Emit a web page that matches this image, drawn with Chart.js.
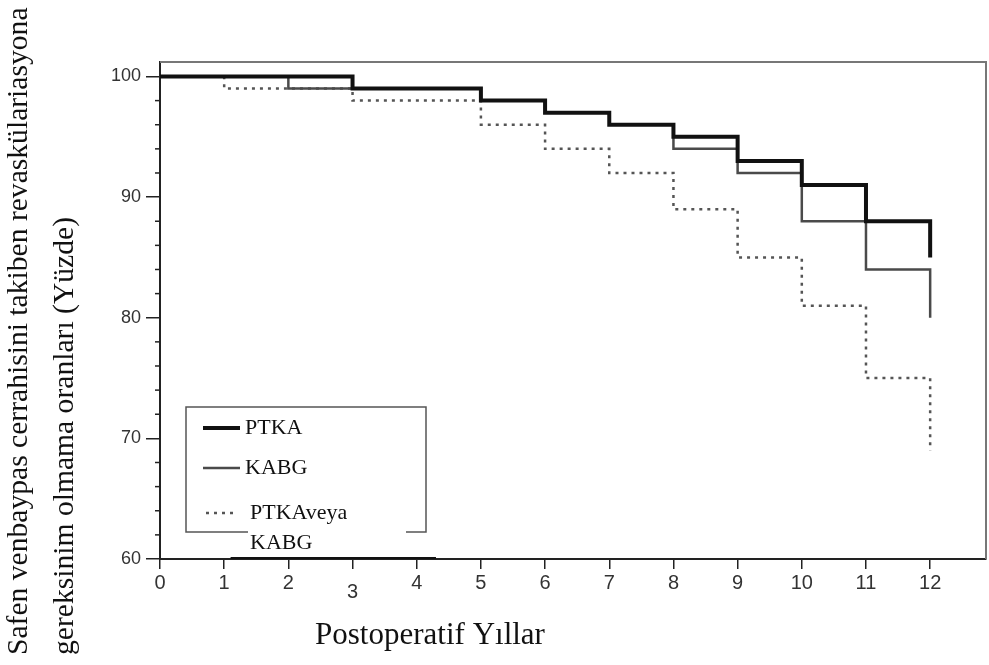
<!DOCTYPE html>
<html>
<head>
<meta charset="utf-8">
<script src="https://cdn.jsdelivr.net/npm/chart.js@4.4.1/dist/chart.umd.min.js"></script>
<style>
html,body{margin:0;padding:0;background:#fff;}
#wrap{position:relative;width:989px;height:665px;}
</style>
</head>
<body>
<div id="wrap"><canvas id="c" width="989" height="665"></canvas></div>
<script>
// ---- data ----
const years = [0,1,2,3,4,5,6,7,8,9,10,11,12];
const ptka   = [100,100,100,99,99,98,97,96,95,93,91,88,85];
const kabg   = [100,100,99,99,99,98,97,96,94,92,88,84,80];
const either = [100,99,99,98,98,96,94,92,89,85,81,75,69];
const artifactX = [1.1, 4.3];
const artifactY = [60, 60];
const xTickValues = [0,1,2,3,4,5,6,7,8,9,10,11,12];
const yTickValues = [60,70,80,90,100];
const yMinorTickValues = [62,64,66,68,72,74,76,78,82,84,86,88,92,94,96,98];
const legendLabels = ['PTKA','KABG',['PTKAveya','KABG']];
const xTitle = 'Postoperatif Yıllar';
const yTitle = ['Safen venbaypas cerrahisini takiben revaskülariasyona','gereksinim olmama oranları (Yüzde)'];

const pts = (xs, ys) => xs.map((x,i)=>({x:x, y:ys[i]}));

const serif = "'Liberation Serif','Times New Roman',serif";
const sans = "'Liberation Sans',Arial,sans-serif";
const narrow = "'Liberation Sans Narrow','Arial Narrow','Liberation Sans',sans-serif";

const decor = {
  id:'decor',
  afterDraw(chart){
    const ctx = chart.ctx, a = chart.chartArea;
    const ys = chart.scales.y;
    ctx.save();
    // frame top & right
    ctx.strokeStyle = '#777'; ctx.lineWidth = 2;
    ctx.beginPath();
    ctx.moveTo(a.left, a.top); ctx.lineTo(a.right, a.top); ctx.lineTo(a.right, a.bottom);
    ctx.stroke();
    // minor y ticks
    ctx.strokeStyle = '#222'; ctx.lineWidth = 1.5;
    yMinorTickValues.forEach(v=>{
      const p = ys.getPixelForValue(v);
      ctx.beginPath(); ctx.moveTo(a.left-5, p); ctx.lineTo(a.left, p); ctx.stroke();
    });
    // legend box
    ctx.strokeStyle = '#555'; ctx.lineWidth = 1.5;
    const bx=186, by=407, bw=240, bh=125;
    ctx.beginPath();
    ctx.moveTo(bx+62, by+bh); ctx.lineTo(bx, by+bh); ctx.lineTo(bx, by); ctx.lineTo(bx+bw, by);
    ctx.lineTo(bx+bw, by+bh); ctx.lineTo(bx+bw-20, by+bh);
    ctx.stroke();
    const ds = chart.data.datasets;
    const rows = [428, 468, 513];
    ctx.font = '22px ' + serif; ctx.fillStyle = '#111'; ctx.textBaseline = 'middle'; ctx.textAlign='left';
    for (let i=0;i<3;i++){
      const d = ds[i];
      ctx.strokeStyle = d.borderColor; ctx.lineWidth = d.borderWidth;
      ctx.setLineDash(d.borderDash || []);
      ctx.beginPath(); ctx.moveTo(i==2?206:203, rows[i]); ctx.lineTo(i==2?236:240, rows[i]); ctx.stroke();
      ctx.setLineDash([]);
      const lab = legendLabels[i];
      if (Array.isArray(lab)){
        ctx.fillText(lab[0], 250, rows[i]);
        ctx.fillText(lab[1], 250, rows[i]+30);
      } else ctx.fillText(lab, 245, rows[i]);
    }
    // x title
    ctx.font = '31px ' + serif; ctx.textAlign='center'; ctx.fillStyle='#111';
    ctx.fillText(xTitle, 430, 636);
    // y title
    ctx.font = '25px ' + serif;
    const w = ctx.measureText(yTitle[0]).width;
    const fs = 25 * 648 / w;
    ctx.font = fs.toFixed(1) + 'px ' + serif;
    ctx.textAlign = 'left';
    [[19, yTitle[0]],[65, yTitle[1]]].forEach(([cx, t])=>{
      ctx.save();
      ctx.translate(cx, 655);
      ctx.rotate(-Math.PI/2);
      ctx.fillText(t, 0, 0);
      ctx.restore();
    });
    ctx.restore();
  }
};

new Chart(document.getElementById('c'), {
  type:'line',
  data:{
    datasets:[
      {label:'PTKA', data:pts(years, ptka), borderColor:'#111', borderWidth:4, stepped:'before', pointRadius:0, fill:false},
      {label:'KABG', data:pts(years, kabg), borderColor:'#4a4a4a', borderWidth:2.5, stepped:'before', pointRadius:0, fill:false},
      {label:'PTKA veya KABG', data:pts(years, either), borderColor:'#555', borderWidth:2.5, borderDash:[3,5], stepped:'before', pointRadius:0, fill:false},
      {label:'', data:pts(artifactX, artifactY), borderColor:'#111', borderWidth:4, pointRadius:0, fill:false}
    ]
  },
  options:{
    responsive:false, animation:false,
    layout:{padding:{top:62, right:3, left:0, bottom:0}},
    plugins:{legend:{display:false}, tooltip:{enabled:false}},
    scales:{
      x:{type:'linear', min:0, max:12.87,
        afterBuildTicks(s){ s.ticks = xTickValues.map(v=>({value:v})); },
        afterFit(s){ s.height = 106; },
        ticks:{includeBounds:false, autoSkip:false, maxRotation:0, padding:2, color:'#333',
          font:(c)=>({family:narrow, size:20, lineHeight: (c.tick && c.tick.value===3) ? 2.1 : 1.2}),
          callback:(v)=>String(v)},
        grid:{drawOnChartArea:false, drawTicks:true, tickLength:10, color:'#222', lineWidth:1.5},
        border:{display:true, color:'#222', width:2}
      },
      y:{type:'linear', min:60, max:101.2,
        afterBuildTicks(s){ s.ticks = yTickValues.map(v=>({value:v})); },
        afterFit(s){ s.width = 160; },
        ticks:{includeBounds:false, padding:5, color:'#333', font:{family:sans, size:18}, callback:(v)=>String(v)},
        grid:{drawOnChartArea:false, drawTicks:true, tickLength:14, color:'#222', lineWidth:1.5},
        border:{display:true, color:'#222', width:2}
      }
    }
  },
  plugins:[decor]
});
</script>
</body>
</html>
